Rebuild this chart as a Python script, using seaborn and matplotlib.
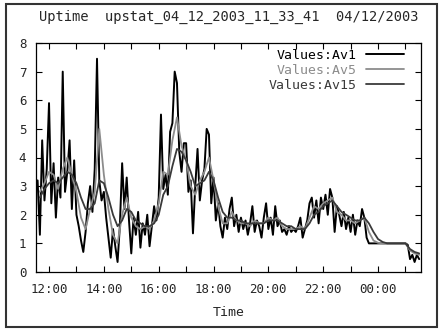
import matplotlib
matplotlib.use("Agg")
import matplotlib.pyplot as plt
import matplotlib.dates as mdates
from matplotlib.patches import Rectangle
import pandas as pd
import seaborn as sns

# Av1 load, one value every 5 minutes from 11:35 to 01:30
av1 = [
    3.2, 1.3, 4.6, 2.5, 3.6,
    5.9, 2.4, 3.8, 1.9, 3.3, 2.6, 7.0, 2.8, 3.5, 4.6, 2.2, 3.9,
    2.0, 1.6, 1.1, 0.7, 1.4, 2.4, 3.0, 2.1, 3.6, 7.45, 3.2, 2.5,
    2.8, 1.9, 1.2, 0.5, 1.5, 0.9, 0.35, 1.6, 3.8, 2.2, 3.3, 1.8,
    0.65, 1.9, 1.3, 2.1, 0.85, 1.7, 1.3, 2.0, 0.9, 1.6, 2.3, 1.8,
    2.6, 5.5, 2.9, 3.4, 2.7, 4.9, 5.2, 7.0, 6.6, 4.2, 3.5, 4.5,
    4.5, 2.8, 3.2, 1.35, 3.0, 4.3, 2.5, 3.2, 3.6, 5.0, 4.8, 2.4,
    3.3, 1.8, 2.4, 1.6, 1.2, 1.9, 1.5, 2.2, 2.6, 1.6, 2.0, 1.4,
    1.9, 1.5, 1.8, 1.3, 1.7, 2.3, 1.4, 1.8, 1.6, 1.2, 1.9, 2.4,
    1.5, 1.9, 1.3, 2.3, 1.6, 1.8, 1.4, 1.5, 1.3, 1.6, 1.4, 1.5,
    1.4, 1.6, 1.9, 1.2, 1.5, 1.8, 2.4, 2.6, 1.9, 2.5, 1.7, 2.6,
    2.2, 2.7, 2.0, 2.9, 2.6, 1.4, 2.3, 2.0, 1.6, 2.1, 1.5, 1.9,
    1.4, 2.0, 1.3, 1.8, 1.6, 2.2, 1.9, 1.2, 1.0, 1.0, 1.0, 1.0,
    1.0, 1.0, 1.0, 1.0, 1.0, 1.0, 1.0, 1.0, 1.0, 1.0, 1.0, 1.0,
    1.0, 0.95, 0.45, 0.6, 0.35, 0.6, 0.45,
]

# Av5 and Av15, one value every 10 minutes from 11:40 to 01:30
av5 = [
    2.8, 3.1,
    3.5, 3.4, 2.9, 3.6, 4.0, 3.4,
    2.8, 1.9, 1.5, 2.2, 2.8, 5.0,
    3.4, 2.2, 1.3, 1.0, 2.0, 2.6,
    1.9, 1.6, 1.5, 1.6, 1.5, 1.8,
    2.4, 3.5, 3.4, 4.6, 5.4, 4.4,
    3.9, 3.0, 2.7, 3.2, 3.5, 4.0,
    3.2, 2.3, 1.7, 1.7, 2.1, 1.8,
    1.7, 1.7, 1.6, 1.8, 1.7, 1.7,
    1.9, 1.8, 1.9, 1.6, 1.5, 1.5,
    1.5, 1.6, 1.5, 1.9, 2.3, 2.2,
    2.4, 2.5, 2.6, 2.1, 2.0, 1.8,
    1.8, 1.7, 1.8, 1.9, 1.4, 1.1,
    1.02, 1.0, 1.0, 1.0, 1.0, 1.0,
    1.0, 0.75, 0.65, 0.6,
]
av15 = [
    2.6, 2.9,
    3.1, 3.2, 3.1, 3.3, 3.5, 3.4,
    3.1, 2.6, 2.2, 2.2, 2.4, 3.2,
    3.1, 2.6, 2.0, 1.6, 1.8, 2.2,
    2.1, 1.8, 1.7, 1.6, 1.6, 1.7,
    2.0, 2.7, 3.0, 3.7, 4.3, 4.2,
    3.9, 3.5, 3.0, 3.1, 3.2, 3.5,
    3.2, 2.6, 2.1, 1.9, 1.9, 1.8,
    1.8, 1.7, 1.7, 1.7, 1.7, 1.7,
    1.8, 1.8, 1.8, 1.7, 1.6, 1.6,
    1.5, 1.5, 1.5, 1.7, 2.0, 2.1,
    2.3, 2.4, 2.5, 2.3, 2.1, 2.0,
    1.9, 1.8, 1.8, 1.9, 1.7, 1.4,
    1.15, 1.05, 1.0, 1.0, 1.0, 1.0,
    1.0, 0.8, 0.7, 0.65,
]

t1 = pd.date_range("2003-04-12 11:35", periods=len(av1), freq="5min")
t5 = pd.date_range("2003-04-12 11:40", periods=len(av5), freq="10min")

sns.set_theme(style="white")
plt.rcParams["font.family"] = ["DejaVu Sans Mono", "DejaVu Sans"]
plt.rcParams["font.size"] = 9.5

fig = plt.figure(figsize=(4.43, 3.32), dpi=100)
ax = fig.add_axes([36 / 443, 1 - 272 / 332, 385 / 443, 229 / 332])

sns.lineplot(x=t1, y=av1, ax=ax, color="#000000", lw=1.4, label="Values:Av1")
sns.lineplot(x=t5, y=av5, ax=ax, color="#8c8c8c", lw=1.3, label="Values:Av5")
sns.lineplot(x=t5, y=av15, ax=ax, color="#3a3a3a", lw=1.3, label="Values:Av15")

ax.set_xlim(pd.Timestamp("2003-04-12 11:31:30"), pd.Timestamp("2003-04-13 01:34"))
ax.set_ylim(0, 8)
ax.set_yticks(range(0, 9))
ax.xaxis.set_major_locator(mdates.HourLocator(byhour=range(0, 24, 2)))
ax.xaxis.set_minor_locator(mdates.HourLocator())
ax.xaxis.set_major_formatter(mdates.DateFormatter("%H:%M"))
ax.tick_params(which="both", direction="in", length=4, width=0.8, color="black",
               top=True, right=True, bottom=True, left=True)
ax.tick_params(axis="x", pad=8, labelsize=9)
ax.tick_params(axis="y", pad=7, labelsize=9)
for s in ax.spines.values():
    s.set_color("black")
    s.set_linewidth(0.9)

ax.set_xlabel("Time", labelpad=7, fontsize=9.5)
ax.set_ylabel("")
ax.set_title("Uptime  upstat_04_12_2003_11_33_41  04/12/2003", pad=16, fontsize=9.9)

ax.legend(loc="upper right", bbox_to_anchor=(0.956, 0.975), frameon=False,
          markerfirst=False, handlelength=2.9, handletextpad=0.7,
          borderpad=0, borderaxespad=0, labelspacing=0.15,
          labelcolor="linecolor", fontsize=9.5)

fig.patches.append(Rectangle((6 / 443, 1 - 327 / 332), 431 / 443, 323 / 332,
                             transform=fig.transFigure, fill=False,
                             edgecolor="#333333", lw=1.5))

fig.savefig("out.png", dpi=100, facecolor="white")
